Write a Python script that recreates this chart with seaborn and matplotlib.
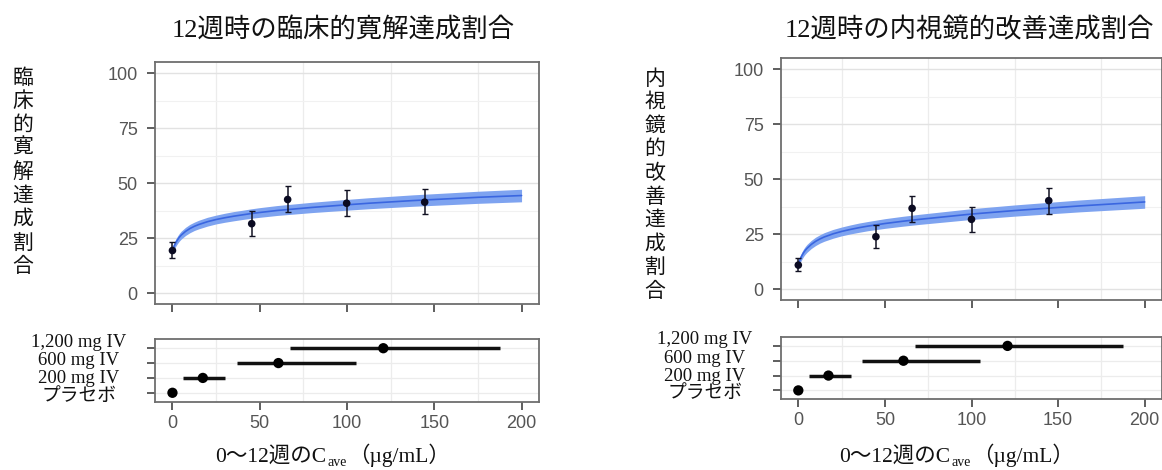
import matplotlib
matplotlib.use("Agg")
import matplotlib.pyplot as plt
import seaborn as sns

# fitted curve on a concentration grid
cave_grid = [0, 0.5, 1, 2, 3, 4, 5, 7.5, 10, 12.5, 15, 20, 25, 30, 35, 40, 45, 50,
             60, 70, 80, 90, 100, 112.5, 125, 137.5, 150, 162.5, 175, 187.5, 200]

cr_fit = [19.5, 20.5, 21.4, 23.0, 24.3, 25.4, 26.3, 28.0, 29.3, 30.3, 31.1, 32.4, 33.4, 34.2,
          34.9, 35.5, 36.1, 36.6, 37.5, 38.2, 38.9, 39.5, 40.1, 40.8, 41.4, 42.0, 42.5,
          43.0, 43.5, 43.9, 44.3]
cr_lo = [18.0, 18.95, 19.8, 21.35, 22.6, 23.65, 24.5, 26.15, 27.4, 28.4, 29.15, 30.4, 31.4,
         32.15, 32.8, 33.4, 33.95, 34.4, 35.25, 35.9, 36.55, 37.1, 37.65, 38.3, 38.85, 39.4,
         39.85, 40.3, 40.75, 41.1, 41.45]
cr_hi = [21.0, 22.05, 23.0, 24.65, 26.0, 27.15, 28.1, 29.85, 31.2, 32.2, 33.05, 34.4, 35.4,
         36.25, 37.0, 37.6, 38.25, 38.8, 39.75, 40.5, 41.25, 41.9, 42.55, 43.3, 43.95, 44.6,
         45.15, 45.7, 46.25, 46.7, 47.15]

ei_fit = [11.5, 12.6, 13.6, 15.2, 16.6, 17.7, 18.6, 20.4, 21.8, 22.9, 23.8, 25.2, 26.3, 27.2,
          28.0, 28.7, 29.3, 29.9, 30.9, 31.8, 32.6, 33.4, 34.2, 35.0, 35.8, 36.5, 37.2,
          37.9, 38.5, 39.1, 39.7]
ei_lo = [10.0, 11.05, 12.0, 13.55, 14.9, 15.95, 16.8, 18.55, 19.9, 21.0, 21.85, 23.2, 24.3,
         25.15, 25.9, 26.6, 27.15, 27.7, 28.65, 29.5, 30.25, 31.0, 31.75, 32.5, 33.25, 33.9,
         34.55, 35.2, 35.75, 36.3, 36.85]
ei_hi = [13.0, 14.15, 15.2, 16.85, 18.3, 19.45, 20.4, 22.25, 23.7, 24.8, 25.75, 27.2, 28.3,
         29.25, 30.1, 30.8, 31.45, 32.1, 33.15, 34.1, 34.95, 35.8, 36.65, 37.5, 38.35, 39.1,
         39.85, 40.6, 41.25, 41.9, 42.55]

# observed proportions with error bars
cr_obs_x = [0, 45.4, 66, 99.8, 144.5]
cr_obs = [19.3, 31.5, 42.5, 40.8, 41.3]
cr_obs_lo = [16.0, 26.0, 36.6, 34.8, 35.7]
cr_obs_hi = [23.1, 37.5, 48.5, 46.6, 47.4]

ei_obs_x = [0, 44.8, 65.7, 100, 144.6]
ei_obs = [11.0, 23.9, 36.8, 31.8, 40.3]
ei_obs_lo = [8.5, 18.6, 30.7, 26.2, 34.2]
ei_obs_hi = [14.1, 29.2, 42.5, 37.5, 46.2]

# exposure by dose group
doses = ["プラセボ", "200 mg IV", "600 mg IV", "1,200 mg IV"]
dose_cave = [0, 17.4, 60.7, 120.8]
dose_lo = [0, 5.9, 36.9, 67.4]
dose_hi = [0, 30.2, 104.9, 187.6]

W, H = 1162, 470

sns.set_theme(style="white")
plt.rcParams["font.family"] = ["Liberation Serif", "Noto Sans CJK JP"]

fig = plt.figure(figsize=(W / 100, H / 100), dpi=100)
fig.patch.set_facecolor("white")


def rect(x0, x1, y0, y1):
    return [x0 / W, 1 - y1 / H, (x1 - x0) / W, (y1 - y0) / H]


def style(ax):
    ax.set_facecolor("white")
    for s in ax.spines.values():
        s.set_visible(True)
        s.set_color("#6e6e6e")
        s.set_linewidth(1.3)
    ax.tick_params(which="major", direction="out", length=5.5, width=1.1,
                   left=True, bottom=True,
                   color="#333333", labelcolor="#555555", labelsize=13)
    ax.tick_params(which="minor", length=0)
    ax.set_xlabel("")
    ax.set_ylabel("")
    for lab in ax.get_xticklabels() + ax.get_yticklabels():
        lab.set_fontfamily("Liberation Sans")


def panel(top, bot, title, title_x, ylab, ylab_x, ylab_top, xlab_x,
          fit, lo, hi, ox, oy, olo, ohi):
    ax = fig.add_axes(top)
    ax.fill_between(cave_grid, lo, hi, color="#7ea3f0", lw=0, zorder=2)
    sns.lineplot(x=cave_grid, y=fit, ax=ax, color="#3a66e0", lw=1.2, zorder=3)
    yerr = [[y - l for y, l in zip(oy, olo)], [h - y for y, h in zip(oy, ohi)]]
    ax.errorbar(ox, oy, yerr=yerr, fmt="none", ecolor="#111122", elinewidth=1.1,
                capsize=2, capthick=1.0, zorder=4)
    sns.scatterplot(x=ox, y=oy, ax=ax, color="#0b0b22", s=30, edgecolor="none", zorder=5)
    ax.set_xlim(-10, 210)
    ax.set_ylim(-5, 105)
    ax.set_xticks([0, 50, 100, 150, 200])
    ax.set_xticks([25, 75, 125, 175], minor=True)
    ax.set_yticks([0, 25, 50, 75, 100])
    ax.set_yticks([12.5, 37.5, 62.5, 87.5], minor=True)
    ax.grid(which="major", axis="y", color="#e2e2e2", lw=1.0)
    ax.grid(which="minor", axis="y", color="#f1f1f1", lw=0.8)
    ax.grid(which="minor", axis="x", color="#ececec", lw=0.9)
    ax.tick_params(axis="y", pad=7)
    style(ax)
    ax.tick_params(axis="x", labelbottom=False)

    bx = fig.add_axes(bot)
    bx.hlines(range(len(doses)), dose_lo, dose_hi, color="#111111", lw=2.5, zorder=3)
    sns.scatterplot(x=dose_cave, y=list(range(len(doses))), ax=bx, color="#000000",
                    s=55, edgecolor="none", zorder=4)
    bx.set_xlim(-10, 210)
    bx.set_ylim(-0.6, 3.6)
    bx.set_xticks([0, 50, 100, 150, 200])
    bx.set_xticks([25, 75, 125, 175], minor=True)
    bx.set_yticks(range(len(doses)))
    bx.set_yticklabels([])
    bx.grid(which="major", axis="y", color="#ececec", lw=0.9)
    bx.grid(which="minor", axis="x", color="#ececec", lw=0.9)
    bx.tick_params(axis="x", pad=4)
    style(bx)
    offs = [-3.5, -1, 2.5, 6]
    for i, d in enumerate(doses):
        bx.annotate(d, xy=(0, i), xycoords=("axes fraction", "data"),
                    xytext=(-76, offs[i]), textcoords="offset pixels",
                    ha="center", va="center", fontsize=13.5, color="#111111")

    fig.text(title_x / W, 1 - 37 / H, title, fontsize=19, ha="left",
             va="baseline", color="#111111")

    for i, ch in enumerate(ylab):
        fig.text(ylab_x / W, 1 - (ylab_top + 23.6 * (i + 0.5)) / H, ch,
                 fontsize=15, ha="center", va="center", color="#111111")

    base = 8 / H
    t1 = fig.text(xlab_x / W, base, "0～12週のC", fontsize=15.5, ha="left",
                  va="baseline", color="#111111")
    t2 = bx.annotate("ave", xy=(1, base), xycoords=(t1, "figure fraction"),
                     xytext=(1, -4), textcoords="offset pixels", fontsize=10,
                     ha="left", va="baseline", color="#111111")
    bx.annotate("（µg/mL）", xy=(1, base), xycoords=(t2, "figure fraction"),
                xytext=(2, 0), textcoords="offset pixels", fontsize=15.5,
                ha="left", va="baseline", color="#111111")


panel(rect(155, 539, 62, 304), rect(155, 539, 339.3, 401.7),
      "12週時の臨床的寛解達成割合", 172, "臨床的寛解達成割合", 23, 67, 215,
      cr_fit, cr_lo, cr_hi, cr_obs_x, cr_obs, cr_obs_lo, cr_obs_hi)

panel(rect(781, 1162, 58.3, 300.3), rect(781, 1162, 337, 399.3),
      "12週時の内視鏡的改善達成割合", 785, "内視鏡的改善達成割合", 655, 68, 839,
      ei_fit, ei_lo, ei_hi, ei_obs_x, ei_obs, ei_obs_lo, ei_obs_hi)

fig.savefig("out.png", dpi=100)
